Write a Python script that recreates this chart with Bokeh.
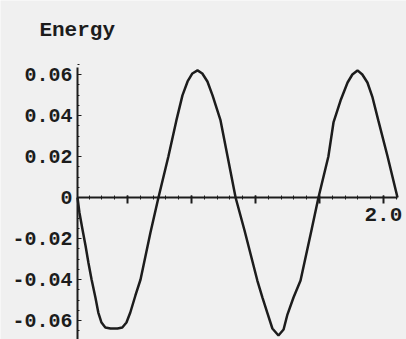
from bokeh.plotting import figure
from bokeh.models import Range1d, LinearAxis, FixedTicker, Label
from bokeh.embed import file_html
from bokeh.resources import INLINE

# Data
time = [1.044, 1.050, 1.059, 1.069, 1.078, 1.088, 1.100, 1.109, 1.119, 1.131,
        1.147, 1.169, 1.184, 1.197, 1.209, 1.225, 1.241, 1.272, 1.297, 1.328,
        1.353, 1.372, 1.388, 1.403, 1.419, 1.434, 1.450, 1.466, 1.491, 1.513,
        1.538, 1.566, 1.606, 1.622, 1.638, 1.653, 1.672, 1.688, 1.700, 1.719,
        1.741, 1.775, 1.797, 1.828, 1.844, 1.866, 1.888, 1.903, 1.919, 1.934,
        1.950, 1.966, 1.984, 2.013, 2.044]
energy = [0.0, -0.0073, -0.0151, -0.0234, -0.0317, -0.0400, -0.0488, -0.0561, -0.0610, -0.0634,
          -0.0639, -0.0639, -0.0634, -0.0610, -0.0561, -0.0478, -0.0400, -0.0171, 0.0, 0.0200,
          0.0376, 0.0498, 0.0566, 0.0605, 0.0620, 0.0605, 0.0566, 0.0498, 0.0376, 0.0200,
          0.0, -0.0161, -0.0405, -0.0488, -0.0566, -0.0639, -0.0673, -0.0644, -0.0571, -0.0488,
          -0.0405, -0.0161, 0.0, 0.0200, 0.0366, 0.0473, 0.0561, 0.0600, 0.0620, 0.0600,
          0.0561, 0.0488, 0.0376, 0.0200, 0.0]

y_ticks = [-0.06, -0.04, -0.02, 0.0, 0.02, 0.04, 0.06]
y_tick_labels = ["-0.06", "-0.04", "-0.02", "0", "0.02", "0.04", "0.06"]
x_ticks = [1.2, 1.4, 1.6, 1.8, 2.0]
x_tick_labels = ["", "", "", "", "2.0"]
y_label = "Energy"

W, H = 406, 339
x_axis_start, x_axis_end = 1.044, 2.044
px_per_x = 320.0
px_per_y = 2050.0
x0 = x_axis_start - 77 / px_per_x
x1 = x0 + W / px_per_x
y1 = 197 / px_per_y
y0 = y1 - H / px_per_y

BG = "#f0f0f0"
INK = "#1c1c1c"
FONT = "Liberation Mono"

p = figure(width=W, height=H, output_backend="svg", toolbar_location=None,
           x_range=Range1d(x0, x1), y_range=Range1d(y0, y1),
           x_axis_type=None, y_axis_type=None, min_border=0)
p.background_fill_color = BG
p.border_fill_color = BG
p.outline_line_color = None

yaxis = LinearAxis(fixed_location=x_axis_start, bounds=(y0, 0.0635))
yaxis.ticker = FixedTicker(ticks=y_ticks,
                           minor_ticks=[round(-0.065 + 0.005 * i, 3) for i in range(27)])
yaxis.major_label_overrides = {t: l for t, l in zip(y_ticks, y_tick_labels)}
yaxis.axis_line_color = INK
yaxis.axis_line_width = 2
yaxis.major_tick_in = 4
yaxis.major_tick_out = 0
yaxis.minor_tick_in = 2
yaxis.minor_tick_out = 0
yaxis.major_tick_line_color = INK
yaxis.minor_tick_line_color = INK
yaxis.major_label_standoff = 5
yaxis.major_label_text_font = FONT
yaxis.major_label_text_font_size = "20px"
yaxis.major_label_text_font_style = "bold"
yaxis.major_label_text_color = INK
p.add_layout(yaxis, "left")

xaxis = LinearAxis(fixed_location=0.0, bounds=(x_axis_start, x_axis_end))
xaxis.ticker = FixedTicker(ticks=x_ticks,
                           minor_ticks=[round(1.08 + 0.04 * i, 2) for i in range(25)])
xaxis.major_label_overrides = {t: l for t, l in zip(x_ticks, x_tick_labels)}
xaxis.axis_line_color = INK
xaxis.axis_line_width = 2
xaxis.major_tick_in = 2
xaxis.major_tick_out = 6
xaxis.minor_tick_in = 2
xaxis.minor_tick_out = 2
xaxis.major_tick_line_color = INK
xaxis.major_tick_line_width = 2
xaxis.minor_tick_line_color = INK
xaxis.major_label_standoff = 4
xaxis.major_label_text_font = FONT
xaxis.major_label_text_font_size = "21px"
xaxis.major_label_text_font_style = "bold"
xaxis.major_label_text_color = INK
p.add_layout(xaxis, "below")

p.line(time, energy, line_color=INK, line_width=2.5)

title = Label(x=0.925, y=0.0815, text=y_label, text_font=FONT,
              text_font_size="21px", text_font_style="bold",
              text_color=INK, text_baseline="alphabetic", text_align="left")
p.add_layout(title)

open("out.html", "w").write(file_html(p, INLINE))
